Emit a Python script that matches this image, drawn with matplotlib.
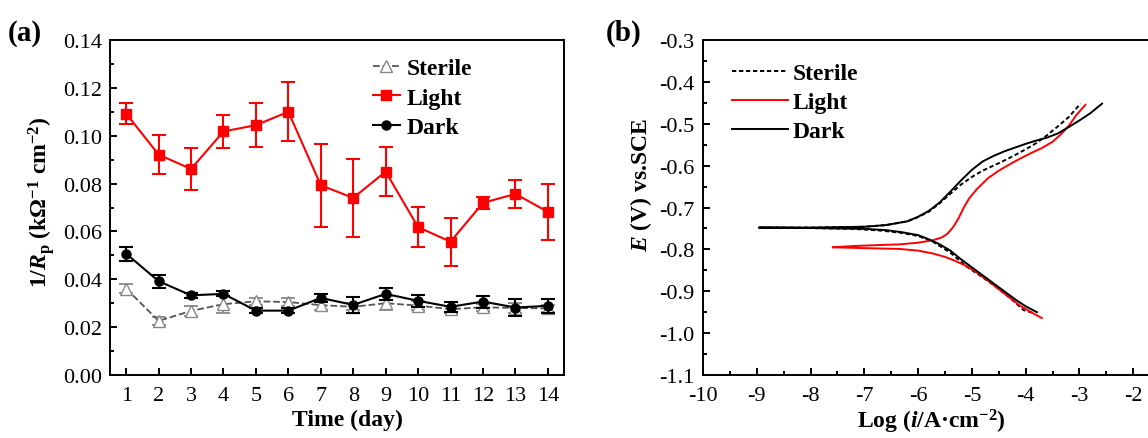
import numpy as np
import matplotlib
matplotlib.use("Agg")
import matplotlib.pyplot as plt
from matplotlib.lines import Line2D
from matplotlib.ticker import MultipleLocator, FixedLocator, FormatStrFormatter


# ---- panel (a): 1/Rp over time ----
days = [1, 2, 3, 4, 5, 6, 7, 8, 9, 10, 11, 12, 13, 14]

light = [0.1092, 0.0921, 0.0861, 0.1018, 0.1044, 0.1100, 0.0793,
         0.0740, 0.0850, 0.0618, 0.0557, 0.0719, 0.0757, 0.0682]
light_err = [0.0045, 0.0080, 0.0088, 0.0070, 0.0092, 0.0124, 0.0173,
             0.0162, 0.0103, 0.0085, 0.0100, 0.0025, 0.0060, 0.0118]

dark = [0.0507, 0.0392, 0.0333, 0.0339, 0.0269, 0.0269, 0.0322,
        0.0293, 0.0339, 0.0310, 0.0285, 0.0307, 0.0282, 0.0289]
dark_err = [0.0030, 0.0028, 0.0010, 0.0010, 0.0010, 0.0010, 0.0015,
            0.0035, 0.0025, 0.0025, 0.0020, 0.0025, 0.0035, 0.0030]

sterile = [0.0361, 0.0226, 0.0268, 0.0296, 0.0308, 0.0305, 0.0292,
           0.0285, 0.0300, 0.0290, 0.0275, 0.0283, 0.0280, 0.0278]
sterile_err = [0.0020, 0.0015, 0.0020, 0.0035, 0.0015, 0.0015, 0.0020,
               0.0015, 0.0030, 0.0020, 0.0015, 0.0015, 0.0020, 0.0015]

# ---- panel (b): polarization curves (cathodic end -> tip -> anodic end) ----
dark_logi = [-3.79, -4.0, -4.2, -4.4, -4.6, -4.8, -5.0, -5.2, -5.4, -5.6, -5.8, -6.0,
             -6.3, -6.6, -7.0, -7.5, -8.0, -8.96,
             -8.0, -7.5, -7.0, -6.6, -6.2, -6.0, -5.8, -5.6, -5.4, -5.2, -5.0, -4.8,
             -4.6, -4.4, -4.2, -4.0, -3.8, -3.6, -3.4, -3.2, -3.0, -2.8, -2.58]
dark_e = [-0.950, -0.936, -0.919, -0.900, -0.881, -0.862, -0.843, -0.824, -0.803, -0.788, -0.776, -0.766,
          -0.759, -0.754, -0.751, -0.750, -0.749, -0.748,
          -0.748, -0.747, -0.746, -0.742, -0.733, -0.722, -0.708, -0.688, -0.662, -0.635, -0.610, -0.590,
          -0.577, -0.566, -0.557, -0.548, -0.540, -0.533, -0.523, -0.508, -0.492, -0.475, -0.452]

sterile_logi = [-3.88, -4.04, -4.3, -4.6, -4.8, -5.1, -5.4, -5.72, -6.0, -6.34, -6.7,
                -7.2, -8.0, -8.96,
                -8.0, -7.5, -7.0, -6.6, -6.2, -6.0, -5.8, -5.6, -5.4, -5.2, -5.0, -4.8,
                -4.6, -4.4, -4.2, -4.0, -3.8, -3.6, -3.4, -3.2, -2.98]
sterile_e = [-0.951, -0.945, -0.915, -0.885, -0.867, -0.841, -0.808, -0.782, -0.768, -0.760, -0.755,
             -0.751, -0.749, -0.748,
             -0.748, -0.747, -0.746, -0.742, -0.733, -0.723, -0.710, -0.690, -0.667, -0.645, -0.627, -0.612,
             -0.600, -0.588, -0.575, -0.561, -0.546, -0.527, -0.506, -0.484, -0.452]

light_logi = [-3.70, -3.9, -4.1, -4.3, -4.5, -4.7, -4.9, -5.1, -5.3, -5.5, -5.72, -6.0,
              -6.34, -7.0, -7.59,
              -7.2, -6.8, -6.34, -6.0, -5.72, -5.55, -5.45, -5.35, -5.25, -5.15, -5.05,
              -4.9, -4.7, -4.5, -4.3, -4.1, -3.9, -3.7, -3.5, -3.36, -3.2, -3.05, -2.89]
light_e = [-0.964, -0.950, -0.935, -0.915, -0.895, -0.875, -0.856, -0.840, -0.828, -0.818, -0.810, -0.803,
           -0.799, -0.797, -0.795,
           -0.792, -0.790, -0.788, -0.784, -0.778, -0.771, -0.762, -0.747, -0.726, -0.700, -0.678,
           -0.655, -0.630, -0.612, -0.597, -0.583, -0.570, -0.558, -0.543, -0.527, -0.505, -0.478, -0.455]

x_b_ticks = [-10, -9, -8, -7, -6, -5, -4, -3, -2]


plt.rcParams["font.family"] = ["Liberation Serif", "DejaVu Serif"]
plt.rcParams["mathtext.fontset"] = "custom"
plt.rcParams["mathtext.rm"] = "Liberation Serif:bold"
plt.rcParams["mathtext.it"] = "Liberation Serif:bold:italic"
plt.rcParams["mathtext.bf"] = "Liberation Serif:bold"
plt.rcParams["axes.linewidth"] = 1.4

TICK_SIZE = 16
LABEL_SIZE = 17

fig = plt.figure(figsize=(11.48, 4.39), dpi=100)
ax_a = fig.add_axes([0.0958, 0.1435, 0.3955, 0.7631])
ax_b = fig.add_axes([0.6124, 0.1435, 0.4216, 0.7631])


def style_axis(ax):
    ax.tick_params(which="both", direction="in", top=False, right=False,
                   labelsize=TICK_SIZE, width=1.4)
    ax.tick_params(which="major", length=5, pad=6)
    ax.tick_params(axis="x", which="major", pad=8)
    ax.tick_params(which="minor", length=3)
    for lbl in ax.get_xticklabels() + ax.get_yticklabels():
        lbl.set_fontfamily("Liberation Serif")


# ---- (a) ----
ax_a.errorbar(days, sterile, yerr=sterile_err, color="#555555", linestyle="--",
              linewidth=1.3, marker="^", markersize=9, markerfacecolor="white",
              markeredgecolor="#888888", ecolor="#888888", elinewidth=1.3,
              capsize=5, capthick=1.3, zorder=2)
ax_a.errorbar(days, light, yerr=light_err, color="#ff0000", linestyle="-",
              linewidth=1.5, marker="s", markersize=7, ecolor="#ff0000",
              elinewidth=1.5, capsize=5, capthick=1.5, zorder=3)
ax_a.errorbar(days, dark, yerr=dark_err, color="black", linestyle="-",
              linewidth=1.5, marker="o", markersize=6.5, ecolor="black",
              elinewidth=1.5, capsize=5, capthick=1.5, zorder=3)

ax_a.set_xlim(0.5, 14.5)
ax_a.set_ylim(0.0, 0.14)
ax_a.set_xticks(days)
ax_a.yaxis.set_major_locator(MultipleLocator(0.02))
ax_a.yaxis.set_minor_locator(MultipleLocator(0.01))
ax_a.yaxis.set_major_formatter(FormatStrFormatter("%.2f"))
style_axis(ax_a)
ax_a.set_xlabel("Time (day)", fontsize=LABEL_SIZE, fontweight="bold", labelpad=3, x=0.524)
ax_a.set_ylabel(r"1/$R_{\rm p}$ (kΩ$^{-1}$ cm$^{-2}$)", fontsize=LABEL_SIZE,
                fontweight="bold", labelpad=4, y=0.52)

legend_a = [
    Line2D([], [], color="#555555", linestyle="--", linewidth=1.3, marker="^",
           markersize=9, markerfacecolor="white", markeredgecolor="#888888"),
    Line2D([], [], color="#ff0000", linewidth=1.5, marker="s", markersize=7),
    Line2D([], [], color="black", linewidth=1.5, marker="o", markersize=6.5),
]
ax_a.legend(legend_a, ["Sterile", "Light", "Dark"], loc="upper right", frameon=False,
            prop={"weight": "bold", "size": LABEL_SIZE}, handlelength=1.15,
            handletextpad=0.3, labelspacing=0.33, bbox_to_anchor=(0.845, 1.01))

# ---- (b) ----
ax_b.plot(sterile_logi, sterile_e, color="black", linestyle=(0, (2.2, 1.4)),
          linewidth=1.4, label="Sterile")
ax_b.plot(light_logi, light_e, color="#ff0000", linewidth=1.4, label="Light")
ax_b.plot(dark_logi, dark_e, color="black", linewidth=1.4, label="Dark")

ax_b.set_xlim(-10, -1)
ax_b.set_ylim(-1.1, -0.3)
ax_b.xaxis.set_major_locator(FixedLocator(x_b_ticks))
ax_b.xaxis.set_minor_locator(MultipleLocator(0.5))
ax_b.yaxis.set_major_locator(MultipleLocator(0.1))
ax_b.yaxis.set_minor_locator(MultipleLocator(0.05))
ax_b.yaxis.set_major_formatter(FormatStrFormatter("%.1f"))
ax_b.xaxis.set_major_formatter(FormatStrFormatter("%d"))
style_axis(ax_b)
ax_b.set_xlabel(r"Log ($i$/A·cm$^{-2}$)", fontsize=LABEL_SIZE, fontweight="bold",
                labelpad=1, x=0.471)
ax_b.set_ylabel(r"$E$ (V) vs.SCE", fontsize=LABEL_SIZE, fontweight="bold",
                labelpad=4, y=0.57)
ax_b.legend(loc="upper left", frameon=False,
            prop={"weight": "bold", "size": LABEL_SIZE}, handlelength=2.4,
            handletextpad=0.2, labelspacing=0.33, bbox_to_anchor=(0.015, 0.997))

fig.text(0.007, 0.908, "(a)", fontsize=21, fontweight="bold")
fig.text(0.528, 0.908, "(b)", fontsize=21, fontweight="bold")

fig.savefig("out.png", dpi=100)
plt.close(fig)
